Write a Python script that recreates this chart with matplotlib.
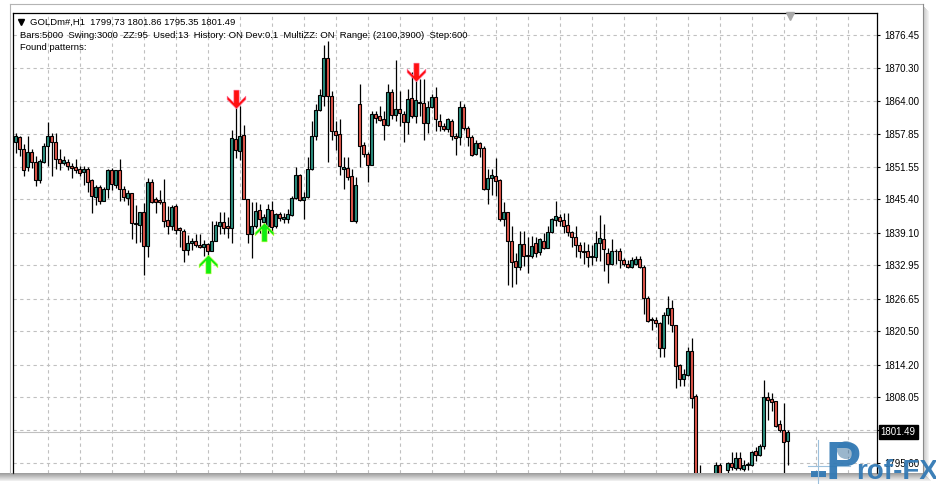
import numpy as np
import matplotlib
matplotlib.use('Agg')
import matplotlib.pyplot as plt
from matplotlib.path import Path
from matplotlib.patches import Rectangle, Circle

# GOLDm#,H1 candles (oldest -> newest)
open_ = [
    1856.3, 1857.1, 1855.0, 1851.55, 1854.4, 1852.5, 1849.0, 1852.5, 1855.4, 1857.3,
    1856.3, 1853.1, 1852.3, 1852.5, 1851.8, 1851.55, 1851.2, 1850.5, 1851.2, 1849.0,
    1845.8, 1847.7, 1845.2, 1847.4, 1851.05, 1848.2, 1850.9, 1847.4, 1845.6, 1846.6,
    1841.0, 1840.6, 1843.0, 1836.6, 1848.7, 1845.5, 1845.3, 1844.9, 1841.5, 1840.4,
    1844.2, 1840.0, 1839.5, 1835.8, 1837.1, 1837.5, 1836.8, 1836.4, 1836.9, 1835.7,
    1837.6, 1840.3, 1841.2, 1840.4, 1839.95, 1856.8, 1854.55, 1857.6, 1845.5, 1838.9,
    1840.4, 1843.4, 1841.2, 1840.4, 1843.4, 1840.4, 1842.75, 1841.7, 1841.7, 1842.5,
    1845.7, 1849.96, 1845.3, 1845.8, 1851.2, 1857.4, 1862.3, 1865.0, 1872.2, 1865.0,
    1858.4, 1857.7, 1851.2, 1851.4, 1849.8, 1841.35, 1863.4, 1855.6, 1854.0, 1852.0,
    1861.45, 1861.1, 1860.5, 1859.5, 1865.6, 1861.3, 1862.4, 1861.6, 1860.0, 1864.5,
    1861.1, 1863.7, 1863.7, 1859.9, 1862.9, 1864.8, 1860.3, 1859.3, 1858.7, 1860.3,
    1857.4, 1857.1, 1862.9, 1858.8, 1857.1, 1853.9, 1856.0, 1855.1, 1847.4, 1849.45,
    1849.8, 1849.0, 1841.8, 1842.95, 1837.5, 1833.7, 1832.6, 1837.05, 1834.85, 1834.7,
    1837.25, 1835.5, 1837.6, 1836.3, 1839.2, 1841.6, 1842.0, 1841.5, 1840.6, 1839.2,
    1838.4, 1836.8, 1835.7, 1835.7, 1834.8, 1834.6, 1837.1, 1837.9, 1835.35, 1833.25,
    1835.7, 1835.7, 1833.9, 1833.3, 1832.7, 1833.25, 1834.2, 1832.6, 1826.8, 1822.8,
    1822.6, 1822.0, 1817.35, 1823.5, 1824.9, 1821.7, 1814.2, 1811.5, 1812.3, 1816.7,
    1808.25, 1791.5, 1792.5, 1790.0, 1791.0, 1793.0, 1795.2, 1793.0, 1794.3, 1795.6,
    1794.7, 1796.6, 1794.6, 1795.3, 1795.2, 1798.0, 1797.1, 1798.8, 1808.2, 1807.7,
    1807.3, 1803.0, 1801.95, 1799.73,
]
high = [
    1857.9, 1857.4, 1855.8, 1857.4, 1854.9, 1853.6, 1853.0, 1856.1, 1860.0, 1858.0,
    1858.0, 1855.0, 1853.6, 1853.0, 1852.2, 1853.0, 1851.7, 1851.8, 1851.6, 1849.2,
    1848.2, 1848.2, 1847.7, 1851.1, 1851.4, 1851.05, 1853.1, 1847.9, 1847.2, 1846.6,
    1844.4, 1843.1, 1844.8, 1849.5, 1849.3, 1845.8, 1847.2, 1849.2, 1844.1, 1844.4,
    1844.5, 1840.2, 1839.9, 1838.7, 1838.2, 1838.9, 1838.8, 1837.8, 1837.2, 1841.35,
    1841.35, 1843.1, 1843.1, 1842.0, 1858.6, 1863.0, 1863.0, 1859.5, 1845.5, 1844.9,
    1844.9, 1844.5, 1842.6, 1844.5, 1845.2, 1842.9, 1843.1, 1842.9, 1843.6, 1846.1,
    1851.56, 1850.3, 1846.8, 1853.5, 1860.2, 1863.4, 1866.2, 1874.5, 1875.3, 1865.9,
    1860.2, 1860.5, 1853.5, 1853.5, 1851.2, 1849.6, 1867.2, 1856.2, 1854.4, 1862.1,
    1862.1, 1863.0, 1862.1, 1867.2, 1866.2, 1871.8, 1865.9, 1862.1, 1866.2, 1869.4,
    1868.5, 1868.1, 1868.1, 1864.0, 1865.3, 1866.6, 1861.45, 1859.9, 1860.7, 1860.5,
    1857.9, 1864.0, 1863.5, 1859.2, 1857.6, 1856.7, 1856.3, 1855.4, 1851.2, 1851.2,
    1853.3, 1849.2, 1844.9, 1843.1, 1840.4, 1835.3, 1839.4, 1839.4, 1838.3, 1838.45,
    1838.4, 1838.2, 1839.0, 1840.4, 1841.9, 1845.1, 1842.7, 1842.8, 1842.85, 1839.5,
    1840.3, 1837.3, 1837.45, 1836.9, 1836.8, 1839.5, 1842.5, 1840.8, 1836.3, 1837.9,
    1836.0, 1836.3, 1834.4, 1833.9, 1834.5, 1834.7, 1834.7, 1833.1, 1827.1, 1823.3,
    1823.3, 1822.3, 1824.2, 1827.1, 1826.45, 1821.7, 1814.4, 1813.4, 1817.55, 1819.2,
    1808.6, 1795.3, 1793.2, 1792.0, 1793.0, 1795.8, 1795.6, 1793.5, 1795.8, 1797.7,
    1797.7, 1797.8, 1796.3, 1795.8, 1798.0, 1798.65, 1799.3, 1811.4, 1809.1, 1808.95,
    1807.4, 1803.7, 1806.9, 1801.86,
]
low = [
    1854.2, 1853.7, 1849.8, 1850.7, 1851.4, 1848.0, 1848.6, 1852.2, 1851.8, 1849.8,
    1851.2, 1850.9, 1852.0, 1850.9, 1849.5, 1850.4, 1849.8, 1848.2, 1846.8, 1842.9,
    1844.3, 1844.6, 1845.2, 1845.6, 1847.2, 1847.5, 1845.2, 1845.2, 1844.3, 1838.0,
    1837.2, 1837.4, 1831.1, 1834.6, 1844.7, 1842.9, 1844.6, 1840.2, 1838.8, 1839.6,
    1838.8, 1836.4, 1833.6, 1835.0, 1835.9, 1836.4, 1836.2, 1834.7, 1833.7, 1835.6,
    1837.5, 1838.8, 1838.8, 1838.2, 1837.2, 1853.2, 1852.8, 1845.5, 1837.2, 1834.3,
    1840.1, 1839.1, 1840.1, 1839.1, 1839.1, 1840.1, 1841.35, 1841.0, 1841.0, 1842.3,
    1845.5, 1845.2, 1841.7, 1845.7, 1850.9, 1856.7, 1862.1, 1863.0, 1852.5, 1856.7,
    1854.7, 1850.0, 1847.4, 1849.0, 1841.35, 1841.0, 1851.6, 1853.5, 1848.7, 1851.9,
    1859.9, 1860.2, 1856.7, 1859.2, 1860.5, 1860.2, 1859.2, 1856.2, 1857.7, 1860.8,
    1859.9, 1861.1, 1856.7, 1857.9, 1862.7, 1858.3, 1858.3, 1858.3, 1858.1, 1856.7,
    1853.8, 1855.7, 1858.6, 1855.4, 1853.7, 1853.8, 1853.5, 1847.1, 1844.5, 1846.3,
    1846.1, 1841.35, 1840.4, 1829.2, 1828.9, 1829.5, 1832.1, 1832.8, 1831.45, 1834.4,
    1834.5, 1835.0, 1836.0, 1836.2, 1839.0, 1840.4, 1840.4, 1839.0, 1838.5, 1836.4,
    1834.5, 1834.4, 1833.25, 1832.6, 1833.0, 1833.8, 1833.8, 1831.85, 1829.6, 1833.1,
    1833.2, 1832.4, 1832.8, 1832.4, 1832.5, 1833.0, 1832.4, 1823.7, 1822.3, 1820.7,
    1821.4, 1815.6, 1815.6, 1821.8, 1820.4, 1809.9, 1810.1, 1810.1, 1812.1, 1806.1,
    1790.5, 1789.0, 1788.5, 1788.0, 1789.5, 1792.0, 1792.5, 1791.5, 1793.6, 1794.3,
    1794.3, 1794.3, 1794.1, 1794.3, 1795.1, 1796.1, 1797.0, 1798.3, 1803.85, 1805.5,
    1802.5, 1801.5, 1792.5, 1795.35,
]
close = [
    1857.4, 1855.0, 1850.9, 1854.4, 1852.5, 1849.0, 1852.6, 1855.4, 1857.3, 1856.3,
    1853.1, 1852.3, 1852.8, 1851.8, 1851.4, 1851.0, 1850.4, 1851.2, 1848.7, 1846.0,
    1847.7, 1845.2, 1847.4, 1851.05, 1848.4, 1850.9, 1847.4, 1845.8, 1846.6, 1841.0,
    1840.7, 1843.0, 1836.6, 1848.7, 1845.0, 1845.0, 1844.9, 1841.4, 1840.4, 1843.9,
    1839.7, 1839.7, 1835.8, 1837.2, 1837.5, 1836.8, 1836.4, 1836.9, 1835.7, 1837.6,
    1840.6, 1841.2, 1840.1, 1839.95, 1856.98, 1854.75, 1857.4, 1845.5, 1838.9, 1840.4,
    1843.3, 1841.7, 1842.1, 1843.6, 1840.2, 1842.6, 1841.9, 1842.0, 1842.75, 1845.7,
    1849.96, 1845.3, 1845.8, 1851.2, 1857.4, 1862.3, 1865.1, 1872.2, 1865.0, 1858.3,
    1857.5, 1851.7, 1851.55, 1849.6, 1841.35, 1848.2, 1855.4, 1854.0, 1852.0, 1861.45,
    1860.8, 1860.4, 1859.5, 1865.6, 1861.3, 1862.4, 1861.8, 1860.0, 1864.3, 1861.1,
    1864.1, 1863.6, 1859.9, 1862.9, 1864.8, 1860.5, 1859.2, 1858.7, 1860.5, 1857.4,
    1857.0, 1862.9, 1858.8, 1857.1, 1853.8, 1856.0, 1855.1, 1847.4, 1849.45, 1849.96,
    1848.8, 1841.8, 1842.95, 1837.5, 1833.6, 1832.6, 1836.9, 1834.7, 1834.8, 1836.6,
    1835.35, 1837.9, 1836.3, 1839.2, 1841.7, 1842.2, 1841.4, 1840.4, 1839.2, 1838.35,
    1836.8, 1835.7, 1835.55, 1834.6, 1834.6, 1837.1, 1838.1, 1836.0, 1833.3, 1835.7,
    1835.6, 1834.0, 1833.25, 1832.7, 1833.9, 1834.2, 1832.7, 1826.8, 1822.4, 1822.6,
    1822.0, 1817.35, 1823.5, 1824.9, 1821.7, 1814.05, 1811.5, 1812.45, 1816.7, 1808.0,
    1792.5, 1792.5, 1790.0, 1791.0, 1792.5, 1795.2, 1793.6, 1792.8, 1795.6, 1794.9,
    1796.6, 1794.7, 1795.2, 1795.35, 1797.7, 1797.1, 1798.8, 1808.2, 1807.6, 1807.2,
    1802.7, 1801.95, 1799.7, 1801.49,
]

# pattern arrows: (bar index, price at arrow centre)
up_arrows = [(48, 1833.2), (62, 1839.35)]
down_arrows = [(55, 1864.45), (100, 1869.55)]

# right price scale
price_ticks = [1876.45, 1870.30, 1864.00, 1857.85, 1851.55, 1845.40, 1839.10,
               1832.95, 1826.65, 1820.50, 1814.20, 1808.05, 1801.80, 1795.60]
price_labels = ['1876.45', '1870.30', '1864.00', '1857.85', '1851.55', '1845.40', '1839.10',
                '1832.95', '1826.65', '1820.50', '1814.20', '1808.05', '', '1795.60']
last_price = 1801.49

header_1 = 'GOLDm#,H1  1799.73 1801.86 1795.35 1801.49'
header_2 = ('Bars:5000  Swing:3000  ZZ:95  Used:13  History: ON Dev:0.1  '
            'MultiZZ: ON  Range: (2100,3900)  Step:600')
header_3 = 'Found patterns:'

BULL = '#2b8f80'
BEAR = '#e2574c'
W, H = 937, 484

plt.rcParams['font.family'] = ['Liberation Sans', 'DejaVu Sans']


def arrow_marker(up=True):
    # thick mt4-style arrow, tip at y=+0.5 for up
    v = [(0, 0.5), (0.5, 0.0), (0.5, -0.18), (0.14, 0.17), (0.14, -0.5),
         (-0.14, -0.5), (-0.14, 0.17), (-0.5, -0.18), (-0.5, 0.0), (0, 0.5)]
    if not up:
        v = [(x, -y) for x, y in v]
    return Path(v, closed=True)


def draw_candles(ax):
    o = np.array(open_)
    h = np.array(high)
    l = np.array(low)
    c = np.array(close)
    x = np.arange(len(o))
    ax.vlines(x, l, h, color='black', lw=0.9, zorder=3)
    bull = c >= o
    bottom = np.minimum(o, c)
    height = np.maximum(np.abs(c - o), 0.15)
    colors = np.where(bull, BULL, BEAR)
    ax.bar(x, height, bottom=bottom, width=0.7, color=colors,
           edgecolor='black', linewidth=0.8, zorder=4)


def main():
    fig = plt.figure(figsize=(W / 100, H / 100), dpi=100)
    fig.patch.set_facecolor('white')

    # chart area in pixel terms: left 12.7, right 877.3, top 12.7, bottom 473
    ax = fig.add_axes([12.7 / W, 1 - 473 / H, (877.3 - 12.7) / W, (473 - 12.7) / H])
    ax.set_facecolor('white')
    draw_candles(ax)

    for i, p in up_arrows:
        ax.plot(i, p, marker=arrow_marker(True), ms=13.5, color='#10ee10',
                mec='#c8ff40', mew=0.4, zorder=6)
    for i, p in down_arrows:
        ax.plot(i, p, marker=arrow_marker(False), ms=13.5, color='#ff1010',
                mec='#ff70a0', mew=0.4, zorder=6)

    ax.set_xlim(-0.75, 215.4)
    ax.set_ylim(1793.76, 1880.66)

    # grid
    ax.set_xticks(np.arange(8, 216, 8))
    ax.tick_params(axis='x', length=0, labelbottom=False)
    ax.set_yticks(price_ticks)
    ax.set_yticklabels(price_labels)
    ax.yaxis.tick_right()
    ax.tick_params(axis='y', length=2.5, width=0.8, pad=2.5, labelsize=7, colors='black')
    ax.grid(True, color='#c0c0c0', lw=0.8, linestyle=(0, (3, 3)), zorder=0)
    ax.set_axisbelow(True)
    for s in ['left', 'top', 'right']:
        ax.spines[s].set_color('black')
        ax.spines[s].set_linewidth(0.9)
    ax.spines['bottom'].set_visible(False)

    # last price line + label
    ax.axhline(last_price, color='#c0c0c0', lw=0.8, zorder=1)
    ax.annotate(f'{last_price:.2f}', xy=(1, last_price), xycoords=('axes fraction', 'data'),
                xytext=(2.5, 0), textcoords='offset points', va='center', ha='left',
                fontsize=7, color='white',
                bbox=dict(boxstyle='square,pad=0.2', fc='black', ec='black'),
                annotation_clip=False, zorder=7)

    # overlay in pixel coordinates: window frame, header, logo
    ov = fig.add_axes([0, 0, 1, 1], zorder=10)
    ov.set_xlim(0, W)
    ov.set_ylim(H, 0)
    ov.axis('off')
    ov.patch.set_alpha(0)

    ov.plot([10, 923], [4, 4], color='#b4b4b4', lw=0.8)
    ov.plot([10, 10], [4, 473], color='#b4b4b4', lw=0.8)
    ov.plot([923, 923], [4, 473], color='#8c8c8c', lw=0.8)
    for k in range(6):
        ov.add_patch(Rectangle((923.5 + k, 6 + k), 1, 467, color='#606060',
                               alpha=0.35 - k * 0.055, lw=0))
    for k in range(8):
        ov.add_patch(Rectangle((0, 473 + k), 924 + k, 1, color='#505050',
                               alpha=0.55 - k * 0.065, lw=0))

    # chart shift marker
    ov.plot(790, 15.5, marker='v', ms=6, color='#a8a8a8', mec='#a8a8a8')

    ov.plot(21, 22, marker='v', ms=4.5, color='black')
    ov.text(30, 22, header_1, fontsize=6.8, va='center', ha='left', color='black')
    ov.text(20, 35, header_2, fontsize=6.8, va='center', ha='left', color='black')
    ov.text(20, 48, header_3, fontsize=6.8, va='center', ha='left', color='black')

    # Prof-FX watermark
    logo = '#3279b4'
    ov.add_patch(Rectangle((811, 471), 15, 6, color=logo, lw=0, alpha=0.95))
    ov.plot([818, 818], [440, 484], color='#9cc0dc', lw=0.8)
    ov.plot([808, 850], [466, 466], color='#9cc0dc', lw=0.8)
    ov.text(826, 479, 'P', fontsize=38, fontweight='bold', color=logo, alpha=0.95,
            ha='left', va='baseline')
    ov.add_patch(Circle((846, 450), 9, color='#1f5d8f', alpha=0.45, lw=0))
    ov.text(856, 479, 'rof-FX', fontsize=20, fontweight='bold', color=logo, alpha=0.95,
            ha='left', va='baseline')

    fig.savefig('out.png', dpi=100, facecolor='white')


if __name__ == '__main__':
    main()
